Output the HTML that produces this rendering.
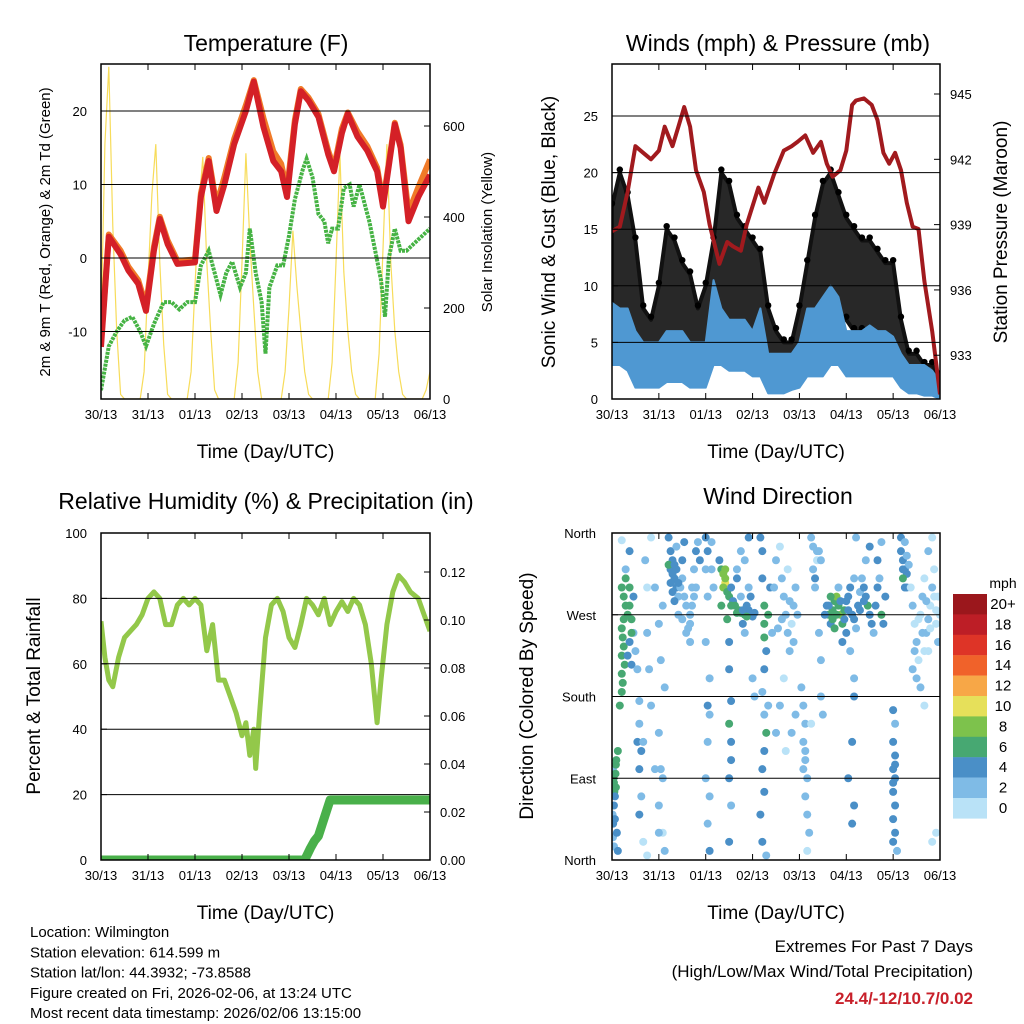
<!DOCTYPE html>
<html><head><meta charset="utf-8"><style>
body{margin:0;background:#fff}
svg{display:block;font-family:"Liberation Sans",Arial,sans-serif}
</style></head><body>
<svg id="c" width="1024" height="1024" viewBox="0 0 1024 1024" xmlns="http://www.w3.org/2000/svg"></svg>
<script>
// ---------- DATA ----------
const dayLabels = ["30/13","31/13","01/13","02/13","03/13","04/13","05/13","06/13"];
const tempHours = [0,4,10,14,19,23,27,30,34,39,48,51,55,59,63,68,74,78,83,88,92,95,99,102,106,111,116,119,123,126,131,136,141,144,150,153,157,162,168];
const temp2m    = [-12.1,2.9,0.5,-1.7,-3.5,-7.2,1,5.3,1.9,-0.8,-0.6,8.3,13.2,6.4,10,15.5,20,24,17.8,13.2,11.8,8.3,18.2,22.7,21.4,19.2,14.1,11.8,17,19.6,16.5,14.6,11.8,7,18.2,15,5,8.3,11.3];
const temp9m    = [-11.5,3.2,1,-1.2,-3,-6.5,1.5,5.6,2.4,-0.4,-0.2,8.8,13.6,7.2,11,16.2,20.8,24.2,19,14.5,12.8,9.2,18.8,23,21.8,19.6,14.6,12.3,17.6,19.8,17.2,15.2,12.3,7.6,18.4,15.4,6.2,9.6,13.4];
const tdHours = [0,4,8,12,16,20,23,27,32,36,40,44,48,51,55,58,61,64,67,71,74,76,79,82,84,86,90,93,96,99,103,105,108,111,114,116,118,121,124,127,129,132,134,137,140,143,145,147,150,153,156,160,164,168];
const dewpt   = [-18,-12,-10,-8.5,-8,-10,-12,-9,-6,-6,-7,-6,-6,-1,1,-2,-5,-2,-0.5,-4,-2,4,-2,-6,-13,-4,-1,-1,3,8,12,13.5,11,6,5,2,4,4,9.5,10,7,10,8,5,1,-3,-8,0,4,1,1,2,3,4];
const solarHours = [0,2,4,6,8,10,12,20,22,24,26,28,30,32,34,36,44,46,48,50,52,54,56,58,60,68,70,72,74,76,78,80,82,84,92,94,96,98,100,102,104,106,108,116,118,120,122,124,126,128,130,132,140,142,144,146,148,150,152,154,156,164,166,168];
const solarVals  = [150,560,730,380,150,10,0,0,60,260,450,560,300,120,10,0,0,60,250,420,532,300,150,20,0,0,80,300,540,350,200,60,0,0,0,60,200,370,250,150,60,10,0,0,80,300,540,280,150,60,10,0,0,100,330,560,300,150,60,10,0,0,20,60];
const presHours = [0,4,8,12,16,20,24,27,31,34,37,40,43,47,50,55,59,62,66,69,75,78,83,88,92,95,99,103,107,110,113,117,120,123,125,129,133,136,139,142,145,148,151,154,157,160,164,168];
const pressure  = [938.7,938.9,940.5,942.6,942.3,942,942.4,943.5,942.6,943.5,944.4,943.5,941.5,940.5,939,937.2,938.2,938,937.8,939,940.7,940,941.3,942.4,942.6,942.8,943.1,942.3,942.8,941.8,941.2,941.5,942.4,944.5,944.7,944.8,944.5,943.8,942.3,941.8,942.3,941.5,940,938.9,938.8,936.4,934.1,931.2];
const windHours = [0,4,8,12,16,20,24,28,32,36,40,44,48,52,56,60,64,68,72,76,80,84,88,92,96,100,104,108,112,116,120,124,128,132,136,140,144,148,152,156,160,164,168];
const windLow   = [3,3,2.5,1,1,1,1,1.5,1.5,1.5,1,1,1,3,3,2.5,2.5,2.5,2,2,0.5,0.5,0.5,0.8,1,2,2,2,3,3,2,2,2,2,2,2,2,1,0.5,0.5,0.3,0.3,0];
const windHigh  = [8.5,8,8,6,5,5,5,6,6,6,5,5,5,10.5,8,7,7,7,6,8,4,4,4,4,5,8,8,9,10,9,6,6,6,6.5,6,6,5.5,4,3,3,3,2.5,1.5];
const gustLow   = [5,7,5,4,3,3,4,5,5,4,4,3,4,5,6,6,5,4,4,4,3,2,2,3,3,5,7,8,8,7,7,6,6,5,5,4,4,2,2,2,1,1,0];
const gustHigh  = [17,20,18,14,8,7,10,15,14,12,11,8,10,14,20,19,16,15,14,13,8,6,5,5,8,12,16,19,20,18,16,15,14,14,13,12,12,7,4,4,3,3,2];
const rhHours = [0,2,4,6,9,12,15,18,21,24,27,30,33,36,39,42,45,48,51,54,57,60,63,66,69,72,74,76,78,79,81,84,87,90,93,96,99,102,105,108,111,114,117,120,123,126,129,132,135,138,140,141,143,146,149,152,155,158,162,165,168];
const rhVals  = [73,62,55,53,62,68,70,72,75,80,82,80,72,72,78,80,78,80,78,64,72,55,55,50,45,38,42,32,40,28,45,68,78,80,76,68,65,72,80,78,75,80,72,76,79,76,80,78,72,60,48,42,55,72,82,87,85,82,80,75,70];
const precipHours = [0,104,107,109,111,113,115,117,168];
const precipVals  = [0,0,0.005,0.008,0.01,0.015,0.02,0.025,0.025];
// Wind direction observations: [hour, degrees, speed mph]
const windObs = [
[0.5,100,3],[0.8,90,7],[1,85,6],[1.2,75,7],[1.5,70,5],[1,60,4],[0.3,50,3],[0.6,40,4],[2,105,7],[2.2,110,6],[1.8,95,7],[0.5,25,3],[1,15,3],[2.5,30,4],[3,120,6],[4,170,7],[2,80,7],[1.5,45,4],[3,10,4],
[5,300,6],[6,290,7],[7,280,7],[6,265,7],[5,255,6],[5.5,245,7],[6,235,7],[5,225,6],[6.5,215,6],[5,205,7],[5.5,195,6],[5,185,7],[7,310,6],[9,280,7],[10,265,6],[9,240,5],[8,225,4],[10,215,5],[11,290,4],[11,250,3],[12,230,3],[8,270,7],[9,300,6],[10,250,6],[13,210,3],[14,175,2],
[9,340,4],[5,352,1],[7,320,2],[13,130,4],[14,150,3],[14,100,4],[15,70,3],[17,330,3],[18,300,1],[18,250,2],[19,210,3],[20,170,2],[22,100,3],[24,60,2],[20,355,1],[22,300,2],[24,260,3],[25,220,2],[24,140,3],[26,90,3],[26,30,1],[27,10,2],[26,280,2],[27,190,2],[14,50,4],[15,120,4],[16,20,1],[18,5,1],[16,130,3],[25,100,3],[24,30,3],
[29,355,4],[30,340,4],[31,330,5],[30,320,4],[32,310,4],[33,300,4],[31,295,4],[34,290,3],[32,285,4],[35,300,3],[36,310,2],[33,345,3],[37,290,2],[29,325,6],[30,305,5],[34,270,2],[36,265,2],[38,280,2],[39,255,2],[40,270,2],[41,300,2],[42,320,3],[43,340,4],[44,350,3],[45,330,4],[43,300,3],[41,280,2],[42,290,2],[40,260,2],[31,315,4],[32,325,4],[33,320,4],[34,305,4],[38,250,2],[40,240,2],[36,330,4],[37,350,4],
[48,355,4],[49,340,4],[48,320,3],[49,290,2],[50,200,2],[49,170,4],[50,160,2],[49,130,3],[48,90,2],[50,70,3],[49,40,2],[50,10,4],[51,350,3],[48,240,2],[51,320,3],[52,300,2],
[55,330,4],[56,320,7],[57,315,8],[58,305,10],[57,300,8],[59,295,6],[60,290,6],[62,285,5],[63,280,6],[65,275,6],[66,272,7],[68,270,6],[70,275,5],[72,268,5],[67,260,4],[69,280,4],[71,290,4],[56,280,6],[59,265,6],[61,300,4],[64,320,3],[66,340,3],[70,355,4],[58,310,8],[61,280,6],[64,272,6],[67,275,5],[69,268,6],[73,272,5],[58,320,8],
[60,240,4],[60,210,4],[61,175,4],[60,150,6],[61,130,4],[60,90,4],[61,60,2],[60,20,4],[61,110,4],
[64,310,4],[66,290,3],[68,330,3],[70,300,3],[68,250,3],[72,200,2],[73,180,3],
[76,355,4],[77,340,4],[77,310,4],[78,280,7],[78,260,7],[78,245,7],[79,230,4],[78,210,4],[77,185,3],[78,160,2],[79,140,6],[78,120,4],[77,100,4],[78,75,4],[76,50,4],[77,20,4],[79,5,2],[80,270,7],[81,300,4],[82,250,3],[80,170,2],
[83,300,2],[84,330,2],[86,345,1],[87,310,2],[88,290,2],[89,270,2],[90,250,2],[91,230,2],[92,260,1],[93,280,2],[94,300,2],[90,320,1],[88,200,1],[86,170,2],[84,140,2],[92,140,2],[94,160,2],[89,120,1],[87,265,2],[91,285,2],[85,255,2],[93,240,2],[95,270,2],
[97,190,2],[98,170,2],[99,150,2],[98,130,2],[99,110,2],[100,90,2],[99,70,2],[100,50,2],[101,30,2],[100,10,1],[102,150,1],[98,100,2],[99,120,2],
[102,355,2],[103,345,3],[103,320,2],[104,300,2],[105,330,1],[106,340,2],[104,310,4],[106,250,2],[107,220,2],[107,180,2],[108,160,2],[105,340,3],[107,330,2],
[110,280,4],[111,270,6],[112,260,5],[113,275,7],[114,285,7],[115,290,8],[116,280,7],[117,270,8],[118,260,6],[119,275,6],[120,285,5],[121,290,4],[122,300,4],[123,270,4],[124,265,4],[125,255,3],[126,280,4],[127,295,3],[128,310,3],[129,300,4],[130,290,4],[131,280,6],[132,270,4],[133,260,4],[134,250,3],[120,250,4],[118,240,5],[114,255,6],[112,290,6],[116,300,3],[124,310,2],[122,230,3],[130,330,3],[132,345,4],[125,355,3],[111,280,4],[113,265,6],[115,270,6],[117,285,5],[119,265,4],[121,275,4],[127,275,4],[129,285,4],[135,280,4],[136,300,4],[137,310,3],[138,270,6],[139,260,4],[140,290,4],[136,330,4],[138,350,3],[109,270,4],
[124,200,3],[124,180,4],[123,130,4],[124,60,4],[123,40,4],[121,90,4],
[144,165,4],[145,150,3],[144,130,4],[145,115,4],[144,100,4],[145,90,4],[144,75,4],[145,60,4],[144,45,4],[145,30,4],[144,20,4],[146,10,3],[145,105,4],[144,85,4],
[148,340,4],[149,330,4],[150,320,4],[151,315,4],[149,310,6],[150,300,4],[151,335,3],[148,355,4],[152,325,3],[150,350,2],[149,320,4],[151,300,4],
[153,300,1],[154,280,2],[155,260,1],[156,240,2],[157,220,1],[158,270,1],[159,290,2],[160,310,1],[161,250,2],[162,230,1],[163,280,1],[164,300,2],[165,320,1],[166,260,1],[167,240,2],[167,290,1],[168,270,1],[158,190,2],[160,170,1],[162,340,2],[164,355,1],[156,200,2],[166,30,1],[164,20,1],[154,210,2],[155,230,2],[157,265,1],[161,285,2],[163,255,1],[166,275,1],[159,250,2],[162,265,2],[165,290,1],[160,230,1]
];
const cbLabels = ["20+","18","16","14","12","10","8","6","4","2","0"];
const cbColors = ["#9b171c","#bd1e26","#de3427","#f0622a","#f7a747","#e6e05a","#7dc24c","#47a872","#4a8fc7","#7fbbe6","#b9e2f7"];

// ---------- DRAW ----------
const NS="http://www.w3.org/2000/svg";
const svg=document.getElementById('c');
function mk(tag,attrs,parent){const e=document.createElementNS(NS,tag);for(const k in attrs)e.setAttribute(k,attrs[k]);(parent||svg).appendChild(e);return e;}
function txt(s,x,y,size,anchor,parent,extra){const t=mk('text',Object.assign({x:x,y:y,'font-size':size,'text-anchor':anchor||'middle',fill:'#000'},extra||{}),parent);t.textContent=s;return t;}
function poly(xs,ys,fx,fy){return xs.map((h,i)=>fx(h).toFixed(1)+','+fy(ys[i]).toFixed(1)).join(' ');}

function panel(name,x0,x1,y0,y1){
  const g=mk('g',{});
  
  
  const clip=mk('clipPath',{id:'clip-'+name},g);mk('rect',{x:x0,y:y0,width:x1-x0,height:y1-y0},clip);
  const inner=mk('g',{'clip-path':'url(#clip-'+name+')'},g);
  return {g,inner,x0,x1,y0,y1,fx:h=>x0+h*(x1-x0)/168};
}
function frame(p,xtitle){
  const b=mk('rect',{x:p.x0,y:p.y0,width:p.x1-p.x0,height:p.y1-p.y0,fill:'none',stroke:'#000','stroke-width':1.5},p.g);
  
  
  dayLabels.forEach((d,i)=>{const x=p.fx(i*24);
    mk('line',{x1:x,x2:x,y1:p.y1,y2:p.y1-6,stroke:'#000'},p.g);
    mk('line',{x1:x,x2:x,y1:p.y0,y2:p.y0+6,stroke:'#000'},p.g);
    const t=txt(d,x,p.y1+20,13,'middle',p.g);
    
    
  });
  const t=txt(xtitle,(p.x0+p.x1)/2,p.y1+59,19,'middle',p.g);
  
  
}
function hgrid(p,y){
  mk('line',{x1:p.x0,x2:p.x1,y1:y,y2:y,stroke:'#000','stroke-width':1},p.g);
}
function ytick(p,y,label,side,lx){
  const x=side==='L'?p.x0:p.x1, d=side==='L'?6:-6;
  mk('line',{x1:x,x2:x+d,y1:y,y2:y,stroke:'#000'},p.g);
  const t=txt(label,lx,y+5,13,side==='L'?'end':'start',p.g);
  
  
}
function vtitle(p,s,x,y,size,name){
  const t=txt(s,x,y,size,'middle',p.g,{transform:'rotate(-90 '+x+' '+y+')'});
  
  
}
function title(s,x,y,name){const t=txt(s,x,y,23,'middle');}

// ===== Panel 1 =====
const p1=panel('temperature-panel',101,430,64,399);
const tY=v=>258-v*7.35, sY=s=>399-s*0.455;
title('Temperature (F)',266,51,'temperature-title');
[20,10,0,-10].forEach(v=>{hgrid(p1,tY(v));ytick(p1,tY(v),String(v),'L',87);});
[600,400,200,0].forEach(v=>ytick(p1,sY(v),String(v),'R',443));
const sol=mk('polyline',{points:poly(solarHours,solarVals,p1.fx,sY),fill:'none',stroke:'#f7dc5a','stroke-width':1.2},p1.inner);


const t9=mk('polyline',{points:poly(tempHours,temp9m,p1.fx,tY),fill:'none',stroke:'#f07a28','stroke-width':6,'stroke-linejoin':'round'},p1.inner);


const t2=mk('polyline',{points:poly(tempHours,temp2m,p1.fx,tY),fill:'none',stroke:'#d42027','stroke-width':6,'stroke-linejoin':'round'},p1.inner);


const td=mk('polyline',{points:poly(tdHours,dewpt,p1.fx,tY),fill:'none',stroke:'#46b344','stroke-width':4,'stroke-dasharray':'3 1'},p1.inner);


frame(p1,'Time (Day/UTC)');
vtitle(p1,'2m & 9m T (Red, Orange) & 2m Td (Green)',50,232,15,'temperature-y-title');
vtitle(p1,'Solar Insolation (Yellow)',492,232,15,'solar-y-title');

// ===== Panel 2 =====
const p2=panel('winds-panel',612,940,64,399);
const wY=v=>399-v*11.32, pY=p=>94+(945-p)*21.77;
title('Winds (mph) & Pressure (mb)',778,51,'winds-title');
[25,20,15,10,5].forEach(v=>hgrid(p2,wY(v)));
[25,20,15,10,5,0].forEach(v=>ytick(p2,wY(v),String(v),'L',598));
[945,942,939,936,933].forEach(v=>ytick(p2,pY(v),String(v),'R',950));
const gustPts=windHours.map((h,i)=>p2.fx(h)+','+wY(gustHigh[i])).concat(windHours.slice().reverse().map((h,j)=>{const i=windHours.length-1-j;return p2.fx(h)+','+wY(gustLow[i]);})).join(' ');
const gb=mk('polygon',{points:gustPts,fill:'#111',stroke:'#111','stroke-width':4,'stroke-linejoin':'round','fill-opacity':0.9},p2.inner);


windHours.forEach((h,i)=>{
  [gustHigh[i],gustLow[i]].forEach(v=>{
    const c=mk('circle',{cx:p2.fx(h),cy:wY(v)-3,r:3.2,fill:'#000'},p2.inner);
    
    
  });
});
const spdPts=windHours.map((h,i)=>p2.fx(h)+','+wY(windHigh[i])).concat(windHours.slice().reverse().map((h,j)=>{const i=windHours.length-1-j;return p2.fx(h)+','+wY(windLow[i]);})).join(' ');
const wb=mk('polygon',{points:spdPts,fill:'#4f98d2',stroke:'#4f98d2','stroke-width':2,'stroke-linejoin':'round'},p2.inner);


const pl=mk('polyline',{points:poly(presHours,pressure,p2.fx,pY),fill:'none',stroke:'#a11a1e','stroke-width':4,'stroke-linejoin':'round'},p2.inner);


frame(p2,'Time (Day/UTC)');
vtitle(p2,'Sonic Wind & Gust (Blue, Black)',555,232,19,'wind-y-title');
vtitle(p2,'Station Pressure (Maroon)',1007,232,19,'pressure-y-title');

// ===== Panel 3 =====
const p3=panel('humidity-panel',101,430,533,860);
const rY=v=>860-v*3.27, prY=v=>860-v*2400;
title('Relative Humidity (%) & Precipitation (in)',266,509,'humidity-title');
[80,60,40,20].forEach(v=>hgrid(p3,rY(v)));
[100,80,60,40,20,0].forEach(v=>ytick(p3,rY(v),String(v),'L',87));
[0.12,0.10,0.08,0.06,0.04,0.02,0.00].forEach(v=>ytick(p3,prY(v),v.toFixed(2),'R',440));
const rl=mk('polyline',{points:poly(rhHours,rhVals,p3.fx,rY),fill:'none',stroke:'#93c84a','stroke-width':5,'stroke-linejoin':'round'},p3.inner);


const pr=mk('polyline',{points:poly(precipHours,precipVals,p3.fx,prY),fill:'none',stroke:'#49b04a','stroke-width':9,'stroke-linejoin':'round'},p3.inner);


frame(p3,'Time (Day/UTC)');
vtitle(p3,'Percent & Total Rainfall',40,696,19,'humidity-y-title');

// ===== Panel 4 =====
const p4=panel('wind-direction-panel',612,940,533,860);
const dY=d=>860-d*327/360;
title('Wind Direction',778,504,'wind-direction-title');
[270,180,90].forEach(v=>hgrid(p4,dY(v)));
[["North",360],["West",270],["South",180],["East",90],["North",0]].forEach(a=>ytick(p4,dY(a[1]),a[0],'L',596));
function spdColor(s){let i=Math.min(10,Math.floor(s/2));return cbColors[10-i];}
windObs.forEach(o=>{
  const c=mk('circle',{cx:p4.fx(o[0]),cy:dY(o[1]),r:4,fill:spdColor(o[2])},p4.inner);
  
  
});
frame(p4,'Time (Day/UTC)');
vtitle(p4,'Direction (Colored By Speed)',533,696,19,'direction-y-title');
const cb=mk('g',{});


txt('mph',1003,588,14,'middle',cb);
cbLabels.forEach((l,i)=>{
  const r=mk('rect',{x:953,y:594+i*20.4,width:34,height:20.6,fill:cbColors[i]},cb);
  
  
  txt(l,1003,594+i*20.4+15,15,'middle',cb);
});

// ===== Footer =====
const ft=mk('g',{});


["Location: Wilmington","Station elevation: 614.599 m","Station lat/lon: 44.3932; -73.8588","Figure created on Fri, 2026-02-06, at 13:24 UTC","Most recent data timestamp: 2026/02/06 13:15:00"].forEach((s,i)=>txt(s,30,937+i*20.3,15,'start',ft));
const ex=mk('g',{});


txt('Extremes For Past 7 Days',973,952,17,'end',ex);
txt('(High/Low/Max Wind/Total Precipitation)',973,977,17,'end',ex);
txt('24.4/-12/10.7/0.02',973,1004,17,'end',ex,{fill:'#c8202a','font-weight':'bold'});
</script>
</body></html>
